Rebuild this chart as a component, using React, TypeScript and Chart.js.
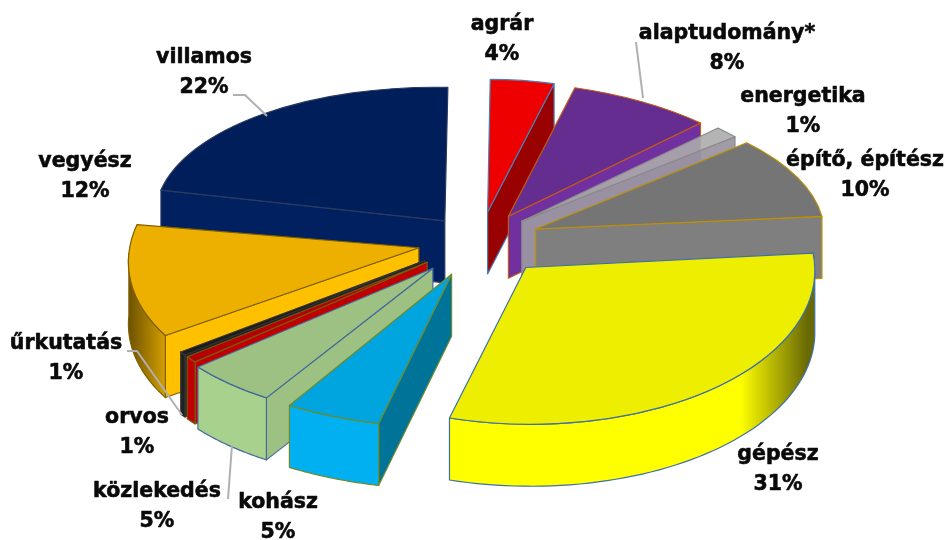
import React, { useEffect, useRef } from "react";
import { Chart, registerables } from "chart.js";

Chart.register(...registerables);

// ---- data ----
const categories = ["agrár", "alaptudomány*", "energetika", "építő, építész", "gépész", "kohász", "közlekedés", "orvos", "űrkutatás", "vegyész", "villamos"];
const shares = [4, 8, 1, 10, 31, 5, 5, 1, 1, 12, 22];

// ---- styling ----
const topColors = ["#EE0000", "#662D91", "rgba(172,172,172,0.9)", "#757575", "#EEEE00", "#00A4DE", "#9DC183", "#B40000", "#1C1C1C", "#EEB000", "#001E5A"];
const rimColors = ["#990000", "#7030A0", "#A8A8A8", "#7F7F7F", "#FFFF00", "#00B0F0", "#A9D18E", "#C00000", "#222222", "#FFC000", "#002060"];
const rimDark = ["#660000", "#4a2070", "#777777", "#555555", "#6A6A05", "#00B0F0", "#A9D18E", "#800000", "#111111", "#6E5200", "#001040"];
const sideColors = ["#990000", "#7030A0", "rgba(155,150,162,0.95)", "#7F7F7F", "#FFFF00", "#007398", "#9DC183", "#C00000", "#222222", "#FFC000", "#002060"];
const edgeColors = ["#4A7FB5", "#C55A11", "#8A8A8A", "#BF9000", "#3F6FA8", "#6F8A2A", "#44699A", "#7A5A10", "#333333", "#7F6000", "#2A3A60"];
const explodeBy = [62, 60, 60, 62, 68, 70, 70, 66, 66, 62, 56];
// lens distortion of the 3D view: how far each cut is turned (percent of the circle) and stretched
const lensStart = [0.2, 0.25, 1.1, 1.3, 0.4, -0.5, -0.4, -0.7, -1.0, -1.0, 0.4];
const lensEnd = [0.15, 0.9, 1.5, 0.6, 0, -0.6, -0.5, -1.0, -1.6, -0.4, 0];
const reachStart = [1, 1, 1.01, 1.01, 0.99, 0.98, 0.98, 0.98, 0.98, 1, 1.04];
const reachEnd = [1, 1, 1.01, 1.01, 1, 0.98, 0.98, 0.98, 0.98, 1, 1];

// projection of the pie plane to the screen
const CX = 480, CY = 242, TILT = 0.495, FOCAL_X = 3000, FOCAL_Y = 5000, RADIUS = 290, DEPTH = 62;
const project = (u: number, v: number) => ({
  x: CX + (u * FOCAL_X) / (FOCAL_X - v),
  y: CY + (TILT * v * FOCAL_Y) / (FOCAL_Y - v),
});

// label placement (centre of the name line), leader lines
const labelAt: [number, number][] = [[502, 25], [727, 34], [803, 97], [865, 161], [778, 455], [278, 503], [157, 492], [137, 418], [66, 344], [85, 162], [204, 58]];
const LINE_GAP = 30;
const leaders: [number, number][][] = [
  [[636, 42], [643, 98]],
  [[233, 95], [245, 95], [267, 116]],
  [[127, 351], [137, 351], [182, 415]],
  [[228, 499], [232, 445]],
];

const tiltedPie = {
  id: "tiltedPie",
  beforeDatasetDraw(chart: any) {
    const ctx: CanvasRenderingContext2D = chart.ctx;
    const arcs: any[] = chart.getDatasetMeta(0).data;
    const order = arcs.map((_, i) => i).sort((p, q) => {
      const mid = (k: number) => Math.sin((arcs[k].startAngle + arcs[k].endAngle) / 2);
      return mid(p) - mid(q);
    });
    const TURN = (Math.PI * 2) / 100;
    for (const i of order) {
      const arc = arcs[i];
      const a0 = arc.startAngle, a1 = arc.endAngle, R = arc.outerRadius;
      const h = (a0 + a1) / 2;
      const ax = explodeBy[i] * Math.cos(h), ay = explodeBy[i] * Math.sin(h);
      const at = (a: number, r: number) => project(ax + r * Math.cos(a), ay + r * Math.sin(a));
      const A = project(ax, ay);
      const B = at(a0 + lensStart[i] * TURN, R * reachStart[i]);
      const C = at(a1 + lensEnd[i] * TURN, R * reachEnd[i]);
      // affine map taking the element's circle sector to its projected sector
      const p0x = R * Math.cos(a0), p0y = R * Math.sin(a0), p1x = R * Math.cos(a1), p1y = R * Math.sin(a1);
      const det = p0x * p1y - p1x * p0y;
      const m11 = ((B.x - A.x) * p1y - (C.x - A.x) * p0y) / det;
      const m12 = ((C.x - A.x) * p0x - (B.x - A.x) * p1x) / det;
      const m21 = ((B.y - A.y) * p1y - (C.y - A.y) * p0y) / det;
      const m22 = ((C.y - A.y) * p0x - (B.y - A.y) * p1x) / det;
      const tr = (x: number, y: number) => ({ x: A.x + m11 * x + m12 * y, y: A.y + m21 * x + m22 * y });

      ctx.lineWidth = 1.2;
      ctx.lineJoin = "round";
      ctx.strokeStyle = edgeColors[i];

      const wall = (pts: { x: number; y: number }[], fill: any) => {
        ctx.beginPath();
        pts.forEach((p, k) => (k ? ctx.lineTo(p.x, p.y) : ctx.moveTo(p.x, p.y)));
        for (let k = pts.length - 1; k >= 0; k--) ctx.lineTo(pts[k].x, pts[k].y + DEPTH);
        ctx.closePath();
        ctx.fillStyle = fill;
        ctx.fill();
        ctx.stroke();
      };

      // flat cut faces that look to the viewer
      if (Math.cos(a0) < 0) wall([A, tr(p0x, p0y)], sideColors[i]);
      if (Math.cos(a1) > 0) wall([A, tr(p1x, p1y)], sideColors[i]);

      // curved rim, only its front half
      const rim: { x: number; y: number }[] = [];
      const STEPS = 60;
      for (let k = 0; k <= STEPS; k++) {
        const a = a0 + ((a1 - a0) * k) / STEPS;
        if (Math.sin(a) >= -0.001) rim.push(tr(R * Math.cos(a), R * Math.sin(a)));
      }
      if (rim.length > 1) {
        const g = ctx.createLinearGradient(A.x - R, 0, A.x + R, 0);
        g.addColorStop(0, rimDark[i]);
        g.addColorStop(0.09, rimColors[i]);
        g.addColorStop(0.87, rimColors[i]);
        g.addColorStop(0.985, rimDark[i]);
        g.addColorStop(1, rimDark[i]);
        wall(rim, g);
      }

      // the top face is the library's own arc element
      ctx.save();
      ctx.setTransform(m11, m21, m12, m22, A.x - (m11 * arc.x + m12 * arc.y), A.y - (m21 * arc.x + m22 * arc.y));
      arc.draw(ctx);
      ctx.beginPath();
      ctx.moveTo(arc.x, arc.y);
      ctx.arc(arc.x, arc.y, R, a0, a1);
      ctx.closePath();
      ctx.setTransform(1, 0, 0, 1, 0, 0);
      ctx.stroke();
      ctx.restore();
    }
    return false;
  },
  afterDraw(chart: any) {
    const ctx: CanvasRenderingContext2D = chart.ctx;
    ctx.save();
    ctx.strokeStyle = "#B0B0B0";
    ctx.lineWidth = 2;
    for (const line of leaders) {
      ctx.beginPath();
      line.forEach(([x, y], k) => (k ? ctx.lineTo(x, y) : ctx.moveTo(x, y)));
      ctx.stroke();
    }
    ctx.fillStyle = "#0A0A0A";
    ctx.strokeStyle = "#0A0A0A";
    ctx.lineWidth = 0.6;
    ctx.textAlign = "center";
    ctx.textBaseline = "middle";
    ctx.font = 'bold 20.5px "DejaVu Sans"';
    categories.forEach((name, i) => {
      const [x, y] = labelAt[i];
      const pct = shares[i] + "%";
      ctx.fillText(name, x, y);
      ctx.strokeText(name, x, y);
      ctx.fillText(pct, x, y + LINE_GAP);
      ctx.strokeText(pct, x, y + LINE_GAP);
    });
    ctx.restore();
  },
};

export default function App() {
  const ref = useRef<HTMLCanvasElement>(null);
  useEffect(() => {
    const chart = new Chart(ref.current as HTMLCanvasElement, {
      type: "pie",
      data: {
        labels: categories,
        datasets: [{ data: shares, backgroundColor: topColors, borderWidth: 0 }],
      },
      options: {
        responsive: false,
        animation: false,
        radius: RADIUS,
        plugins: { legend: { display: false }, tooltip: { enabled: false } },
        events: [],
      } as any,
      plugins: [tiltedPie],
    });
    return () => chart.destroy();
  }, []);
  return (
    <div style={{ position: "fixed", left: 0, top: 0, width: 946, height: 540, background: "#fff" }}>
      <canvas ref={ref} width={946} height={540} style={{ display: "block" }} />
    </div>
  );
}
